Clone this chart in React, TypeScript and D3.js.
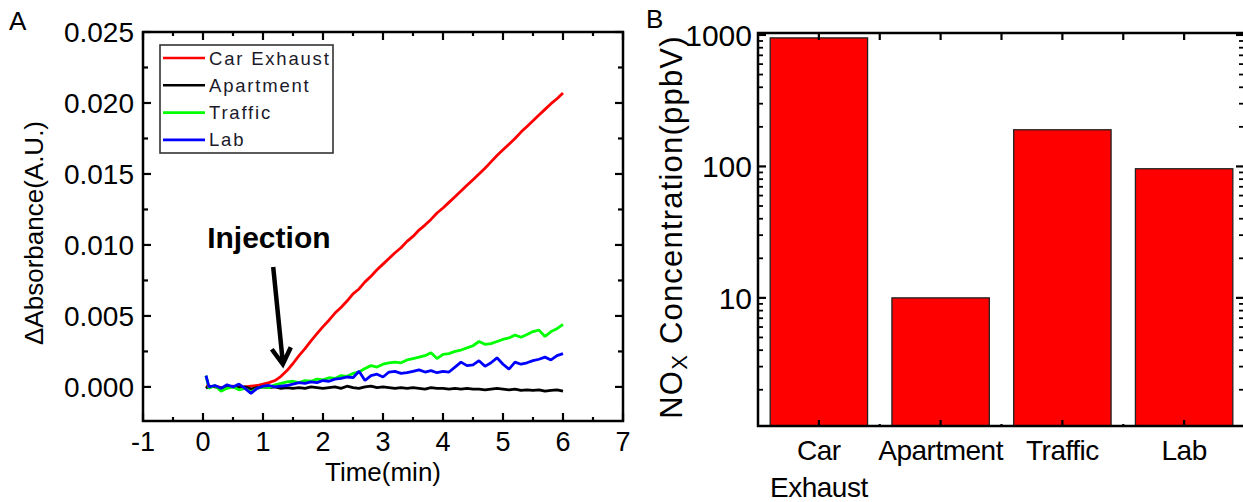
import React, { useRef, useEffect } from "react";
import * as d3 from "d3";

// ---- panel A data (absorbance in 1e-3 A.U.) ----
const time = [0.05, ...d3.range(1, 61).map((i) => i / 10)];

const carExhaust = [
  0.1, 0.0, 0.05, -0.05, 0.0, 0.05, -0.05, 0.0, 0.05, 0.1, 0.2, 0.3, 0.45, 0.75, 1.15, 1.65,
  2.2, 2.7, 3.25, 3.75, 4.25, 4.7, 5.2, 5.6, 6.05, 6.55, 6.9, 7.4, 7.8, 8.25, 8.65, 9.05,
  9.45, 9.8, 10.25, 10.6, 11.05, 11.4, 11.8, 12.25, 12.6, 13.0, 13.4, 13.8, 14.2, 14.6, 15.0,
  15.4, 15.85, 16.3, 16.7, 17.1, 17.5, 17.95, 18.35, 18.75, 19.15, 19.55, 19.95, 20.3, 20.7,
];
const apartment = [
  -0.1, 0.05, 0.0, -0.1, 0.05, 0.0, -0.05, 0.0, -0.15, -0.05, 0.0, -0.05, 0.0, -0.1, -0.05,
  -0.1, -0.05, -0.1, 0.0, -0.05, -0.1, -0.05, 0.0, -0.1, 0.05, -0.05, -0.1, 0.0, 0.05, -0.05,
  0.0, -0.05, -0.1, -0.05, -0.1, -0.05, -0.1, -0.15, -0.05, -0.1, -0.1, -0.15, -0.1, -0.15,
  -0.1, -0.15, -0.15, -0.2, -0.15, -0.1, -0.15, -0.2, -0.15, -0.25, -0.2, -0.25, -0.2, -0.3,
  -0.25, -0.2, -0.3,
];
const traffic = [
  0.8, -0.1, 0.1, -0.3, -0.1, 0.0, -0.2, -0.1, -0.35, -0.1, 0.0, -0.05, 0.15, 0.25, 0.35,
  0.4, 0.3, 0.45, 0.4, 0.55, 0.5, 0.65, 0.6, 0.8, 0.75, 0.95, 1.05, 1.3, 1.5, 1.4, 1.6, 1.7,
  1.75, 1.7, 1.9, 2.0, 2.1, 2.2, 2.4, 2.0, 2.3, 2.35, 2.5, 2.6, 2.75, 2.9, 3.2, 3.0, 3.05,
  3.2, 3.35, 3.45, 3.65, 3.5, 3.7, 3.9, 4.0, 3.55, 3.9, 4.1, 4.4,
];
const lab = [
  0.8, 0.0, 0.1, -0.1, 0.15, 0.0, 0.2, -0.1, -0.45, -0.1, 0.05, 0.1, 0.0, 0.05, 0.1, 0.2,
  0.3, 0.25, 0.35, 0.3, 0.45, 0.4, 0.55, 0.6, 0.7, 0.65, 1.1, 0.45, 0.8, 0.9, 0.7, 1.05,
  1.1, 0.95, 1.0, 1.1, 1.2, 1.05, 1.15, 1.0, 1.1, 1.05, 1.4, 1.75, 1.5, 1.55, 1.85, 1.45,
  1.7, 2.05, 1.6, 1.25, 1.75, 1.6, 1.7, 1.85, 1.95, 2.1, 1.9, 2.2, 2.35,
];

const seriesNames = ["Car Exhaust", "Apartment", "Traffic", "Lab"];
const seriesColors = ["#ff0000", "#000000", "#00ff00", "#0000ff"];
const seriesValues = [carExhaust, apartment, traffic, lab];

const xTicksA = [-1, 0, 1, 2, 3, 4, 5, 6, 7];
const yTicksA = [0, 0.005, 0.01, 0.015, 0.02, 0.025];
const yTickLabelsA = ["0.000", "0.005", "0.010", "0.015", "0.020", "0.025"];

// ---- panel B data ----
const sites = [["Car", "Exhaust"], ["Apartment"], ["Traffic"], ["Lab"]];
const noxPpbv = [950, 10, 190, 96];
const yTicksB = [10, 100, 1000];

const FONT = "'Liberation Sans', Arial, sans-serif";

const App = () => {
  const svgRef = useRef<SVGSVGElement>(null);

  useEffect(() => {
    const svg = d3.select(svgRef.current);
    svg.selectAll("*").remove();
    svg.style("font-family", FONT);

    // ================= Panel A =================
    const xA = d3.scaleLinear().domain([-1, 7]).range([143, 623]);
    const yA = d3.scaleLinear().domain([-0.0024, 0.025]).range([421, 32]);
    const a = svg.append("g");
    const [ax0, ax1] = xA.range();
    const [ay0, ay1] = yA.range();

    // data lines
    const line = d3
      .line<number>()
      .x((_, i) => xA(time[i]))
      .y((d) => yA(d * 1e-3));
    seriesValues.forEach((vals, k) => {
      a.append("path")
        .attr("d", line(vals))
        .attr("fill", "none")
        .attr("stroke", seriesColors[k])
        .attr("stroke-width", 2.8)
        .attr("stroke-linejoin", "bevel");
    });

    // frame
    a.append("rect")
      .attr("x", ax0)
      .attr("y", ay1)
      .attr("width", ax1 - ax0)
      .attr("height", ay0 - ay1)
      .attr("fill", "none")
      .attr("stroke", "#000")
      .attr("stroke-width", 2.5);

    // ticks
    const xMinorA = d3.range(-0.5, 7, 1);
    const yMinorA = d3.range(0.0025, 0.025, 0.005);
    const tk = (x1: number, y1: number, x2: number, y2: number) =>
      a.append("line").attr("x1", x1).attr("y1", y1).attr("x2", x2).attr("y2", y2)
        .attr("stroke", "#000").attr("stroke-width", 2.2);
    xTicksA.forEach((t) => {
      tk(xA(t), ay0, xA(t), ay0 - 8);
      tk(xA(t), ay1, xA(t), ay1 + 8);
    });
    xMinorA.forEach((t) => {
      tk(xA(t), ay0, xA(t), ay0 - 4);
      tk(xA(t), ay1, xA(t), ay1 + 4);
    });
    yTicksA.forEach((v) => {
      tk(ax0, yA(v), ax0 + 8, yA(v));
      tk(ax1, yA(v), ax1 - 8, yA(v));
    });
    yMinorA.forEach((v) => {
      tk(ax0, yA(v), ax0 + 5, yA(v));
      tk(ax1, yA(v), ax1 - 5, yA(v));
    });

    // tick labels
    a.selectAll(".xl")
      .data(xTicksA)
      .enter()
      .append("text")
      .attr("x", (d) => xA(d))
      .attr("y", 451)
      .attr("text-anchor", "middle")
      .attr("font-size", 27)
      .text((d) => String(d));
    a.selectAll(".yl")
      .data(yTicksA)
      .enter()
      .append("text")
      .attr("x", 134)
      .attr("y", (d) => yA(d) + 10)
      .attr("text-anchor", "end")
      .attr("font-size", 28)
      .text((_, i) => yTickLabelsA[i]);

    // axis titles
    a.append("text")
      .attr("x", 383)
      .attr("y", 481)
      .attr("text-anchor", "middle")
      .attr("font-size", 26)
      .text("Time(min)");
    a.append("text")
      .attr("transform", "translate(43,233) rotate(-90)")
      .attr("text-anchor", "middle")
      .attr("font-size", 26)
      .text("ΔAbsorbance(A.U.)");
    a.append("text").attr("x", 9).attr("y", 30).attr("font-size", 26).text("A");

    // legend
    const lg = a.append("g");
    lg.append("rect")
      .attr("x", 160)
      .attr("y", 45)
      .attr("width", 173)
      .attr("height", 108)
      .attr("fill", "#fff")
      .attr("stroke", "#333")
      .attr("stroke-width", 1.6);
    seriesNames.forEach((name, k) => {
      const y = 58 + k * 27.3;
      lg.append("line")
        .attr("x1", 163)
        .attr("x2", 205)
        .attr("y1", y)
        .attr("y2", y)
        .attr("stroke", seriesColors[k])
        .attr("stroke-width", 2.6);
      lg.append("text")
        .attr("x", 209)
        .attr("y", y + 6.5)
        .attr("font-size", 18.5)
        .attr("letter-spacing", 1.8)
        .attr("fill", "#1a1a2a")
        .text(name);
    });

    // injection annotation
    a.append("text")
      .attr("x", xA(0.07))
      .attr("y", yA(0.0098))
      .attr("font-size", 30)
      .attr("font-weight", "bold")
      .text("Injection");
    const tip: [number, number] = [xA(1.33), yA(0.0016)];
    a.append("path")
      .attr(
        "d",
        `M${xA(1.17)},${yA(0.00845)}L${tip[0]},${tip[1] - 2}` +
          `M${tip[0] - 11},${tip[1] - 15}L${tip[0]},${tip[1]}L${tip[0] + 8},${tip[1] - 17}`
      )
      .attr("fill", "none")
      .attr("stroke", "#000")
      .attr("stroke-width", 4.5)
      .attr("stroke-linejoin", "miter");

    // ================= Panel B =================
    const xB = d3.scaleLinear().domain([0.5, 4.5]).range([758, 1245]);
    const yB = d3.scaleLog().domain([1.06, 1035]).range([426, 33]);
    const b = svg.append("g");
    const [bx0, bx1] = xB.range();
    const [by0, by1] = yB.range();

    b.selectAll(".bar")
      .data(noxPpbv)
      .enter()
      .append("rect")
      .attr("x", (_, i) => xB(i + 1 - 0.4))
      .attr("width", (_, i) => xB(i + 1 + 0.4) - xB(i + 1 - 0.4))
      .attr("y", (d) => yB(d))
      .attr("height", (d) => by0 - yB(d))
      .attr("fill", "#ff0000")
      .attr("stroke", "#222")
      .attr("stroke-width", 1.3);

    b.append("rect")
      .attr("x", bx0)
      .attr("y", by1)
      .attr("width", bx1 - bx0)
      .attr("height", by0 - by1)
      .attr("fill", "none")
      .attr("stroke", "#000")
      .attr("stroke-width", 2.5);

    const tb = (x1: number, y1: number, x2: number, y2: number, w = 2.2) =>
      b.append("line").attr("x1", x1).attr("y1", y1).attr("x2", x2).attr("y2", y2)
        .attr("stroke", "#000").attr("stroke-width", w);
    [1, 2, 3, 4].forEach((c) => {
      tb(xB(c), by0, xB(c), by0 - 6);
      tb(xB(c), by1, xB(c), by1 + 7);
    });
    [1.5, 2.5, 3.5].forEach((c) => {
      tb(xB(c), by0, xB(c), by0 - 2);
      tb(xB(c), by1, xB(c), by1 + 7);
    });
    const minorB: number[] = [];
    [1, 10, 100].forEach((dec) =>
      d3.range(2, 10).forEach((k) => {
        if (k * dec > yB.domain()[0]) minorB.push(k * dec);
      })
    );
    yTicksB.forEach((v) => {
      tb(bx0, yB(v), bx0 + 8, yB(v));
      tb(bx1, yB(v), bx1 - 9, yB(v));
    });
    minorB.forEach((v) => {
      tb(bx0, yB(v), bx0 + 5, yB(v), 1.8);
      tb(bx1, yB(v), bx1 - 6, yB(v), 1.8);
    });

    b.selectAll(".yl")
      .data(yTicksB)
      .enter()
      .append("text")
      .attr("x", 752)
      .attr("y", (d) => yB(d) + 11)
      .attr("text-anchor", "end")
      .attr("font-size", 30)
      .text((d) => String(d));

    sites.forEach((lines, i) => {
      lines.forEach((s, j) => {
        b.append("text")
          .attr("x", xB(i + 1))
          .attr("y", 460 + j * 37)
          .attr("text-anchor", "middle")
          .attr("font-size", 28)
          .attr("letter-spacing", -0.5)
          .text(s);
      });
    });

    const yt = b
      .append("text")
      .attr("transform", "translate(682,227) rotate(-90)")
      .attr("text-anchor", "middle")
      .attr("font-size", 31)
      .attr("letter-spacing", 1.2);
    yt.append("tspan").text("NO");
    yt.append("tspan").attr("font-size", 22).attr("dy", 5).text("X");
    yt.append("tspan").attr("dy", -5).text(" Concentration(ppbV)");

    b.append("text").attr("x", 646).attr("y", 28).attr("font-size", 26).text("B");
  }, []);

  return (
    <svg
      ref={svgRef}
      width={1243}
      height={502}
      style={{ position: "absolute", left: 0, top: 0, background: "#fff" }}
    />
  );
};

export default App;
